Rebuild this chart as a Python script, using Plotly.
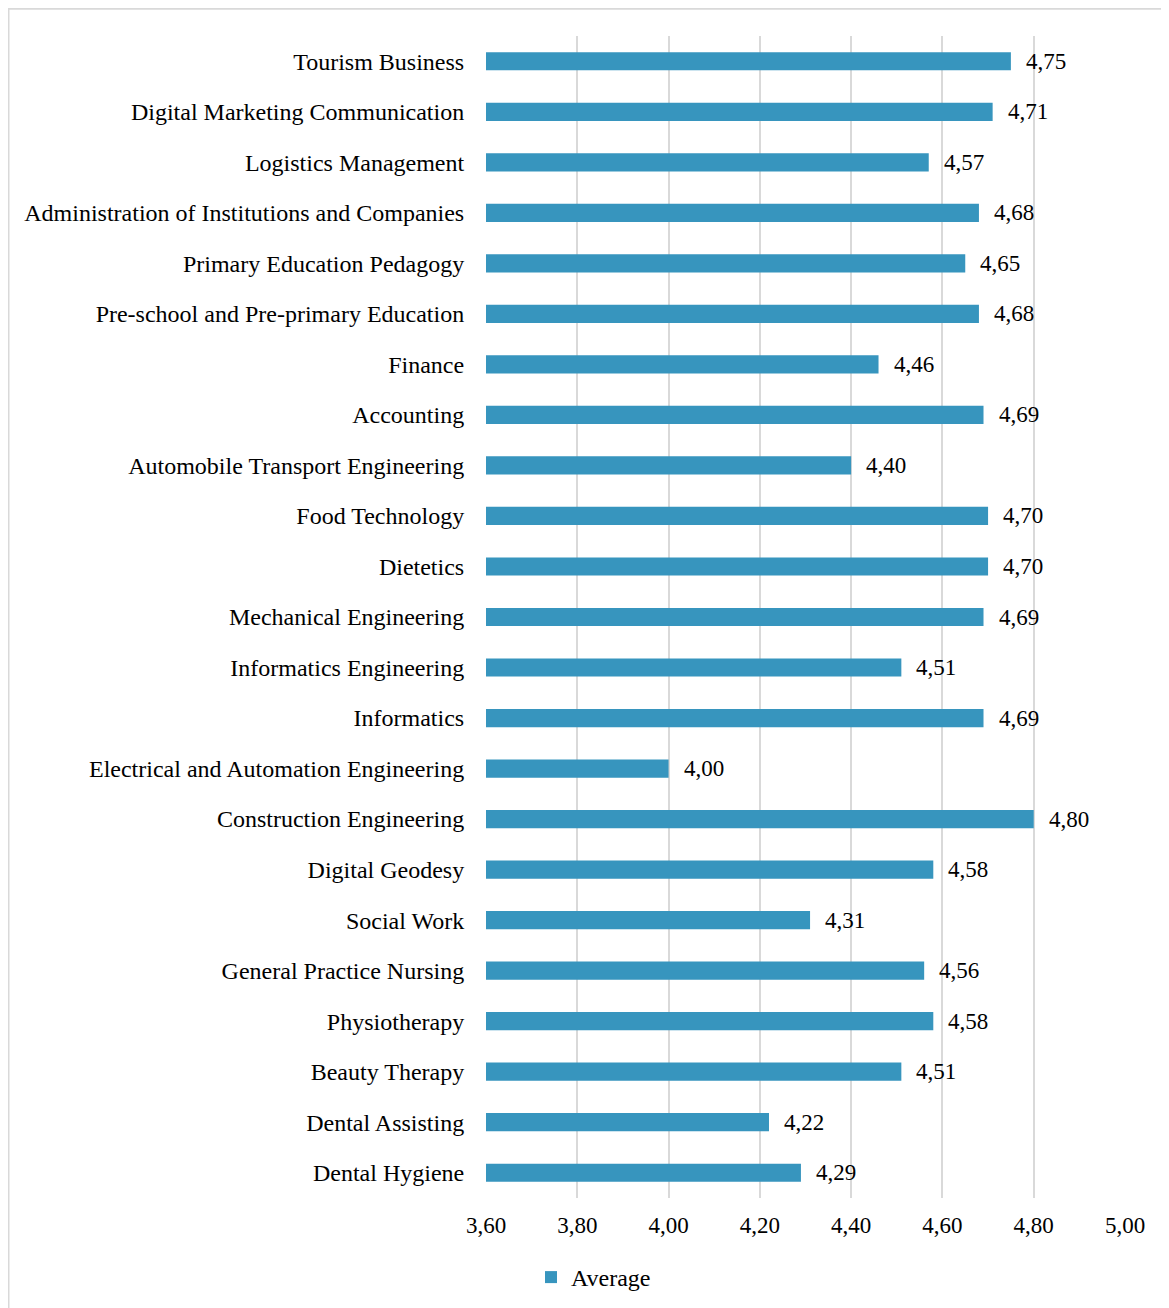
import plotly.graph_objects as go

programs = [
    "Tourism Business", "Digital Marketing Communication", "Logistics Management",
    "Administration of Institutions and Companies", "Primary Education Pedagogy",
    "Pre-school and Pre-primary Education", "Finance", "Accounting",
    "Automobile Transport Engineering", "Food Technology", "Dietetics",
    "Mechanical Engineering", "Informatics Engineering", "Informatics",
    "Electrical and Automation Engineering", "Construction Engineering",
    "Digital Geodesy", "Social Work", "General Practice Nursing", "Physiotherapy",
    "Beauty Therapy", "Dental Assisting", "Dental Hygiene",
]
average = [4.75, 4.71, 4.57, 4.68, 4.65, 4.68, 4.46, 4.69, 4.40, 4.70, 4.70, 4.69,
           4.51, 4.69, 4.00, 4.80, 4.58, 4.31, 4.56, 4.58, 4.51, 4.22, 4.29]
tick_vals = [3.6, 3.8, 4.0, 4.2, 4.4, 4.6, 4.8, 5.0]

labels = [f"{v:.2f}".replace(".", ",") for v in average]

# page body has an 8px margin, so work in figure pixels = reference - 8
W, H = 1161, 1300
L, R, T, B = 478, 44, 28, 110
pw, ph = W - L - R, H - T - B


def px_x(p):
    return (p - L) / pw


def px_y(p):
    return (H - B - p) / ph


fig = go.Figure(go.Bar(
    x=average, y=programs, orientation="h", name="Average",
    marker=dict(color="#3795BE", line=dict(width=0)),
    showlegend=True,
))

# value labels to the right of each bar
for cat, val, lab in zip(programs, average, labels):
    fig.add_annotation(x=val, y=cat, text=lab, showarrow=False, xanchor="left",
                       xshift=13, font=dict(size=23, color="#000000"))

fig.update_layout(
    width=W, height=H,
    margin=dict(l=L, r=R, t=T, b=B, autoexpand=False),
    plot_bgcolor="white", paper_bgcolor="white",
    font=dict(family="Liberation Serif, Times New Roman, serif", size=24, color="#000000"),
    bargap=0.64,
    legend=dict(orientation="h", xref="container", yref="container",
                x=523 / W, y=1 - 1247 / H, xanchor="left", yanchor="top",
                font=dict(size=24)),
    shapes=[dict(type="rect", xref="paper", yref="paper",
                 x0=px_x(0.5), x1=px_x(1180), y0=px_y(1320), y1=px_y(0.8),
                 line=dict(color="#d9d9d9", width=2), fillcolor="rgba(0,0,0,0)", layer="below")],
)
fig.update_xaxes(range=[3.6, 5.0], tickvals=tick_vals,
                 ticktext=[f"{t:.2f}".replace(".", ",") for t in tick_vals],
                 tickfont=dict(size=23),
                 showgrid=True, gridcolor="#d9d9d9", gridwidth=2, zeroline=False,
                 ticks="outside", ticklen=6, tickcolor="rgba(0,0,0,0)", showline=False)
fig.update_yaxes(autorange="reversed", ticks="outside", ticklen=16,
                 tickcolor="rgba(0,0,0,0)", showgrid=False, showline=False)

fig.write_html("out.html")
